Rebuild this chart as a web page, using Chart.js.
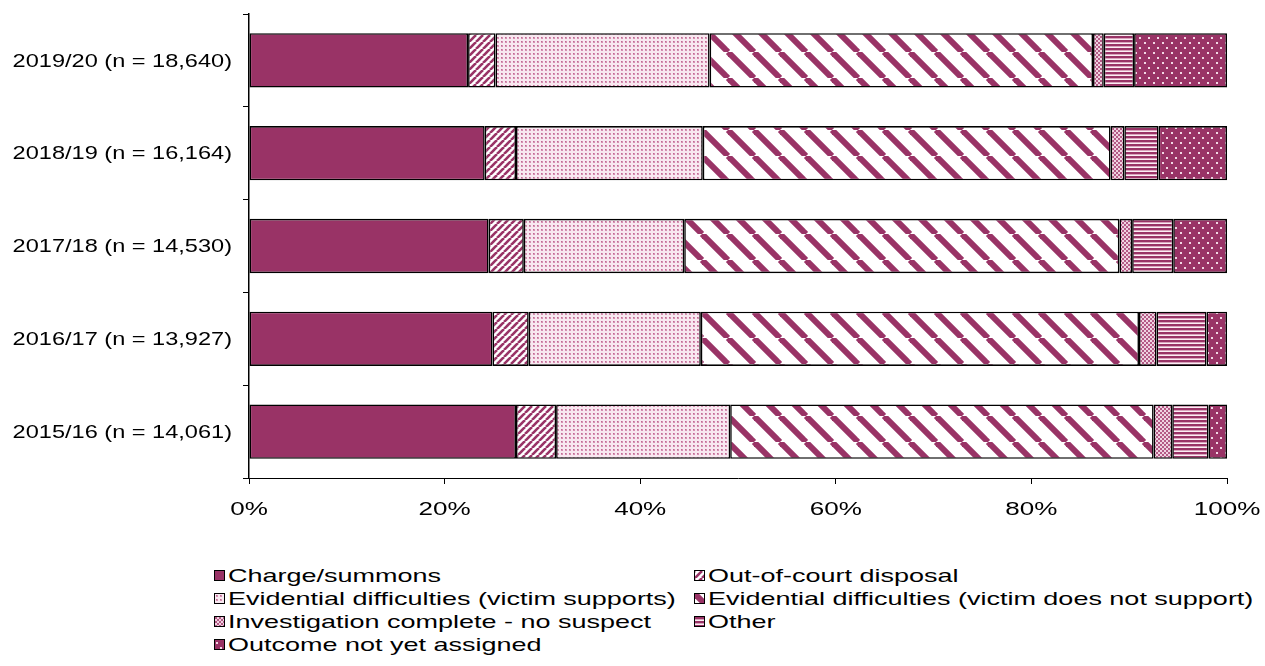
<!DOCTYPE html>
<html>
<head>
<meta charset="utf-8">
<script src="https://cdn.jsdelivr.net/npm/chart.js@4.4.1/dist/chart.umd.min.js"></script>
<style>
    body { margin: 0; background: #fff; font-family: "Liberation Sans", Arial, sans-serif; }
    #wrap { position: relative; width: 1265px; height: 666px; overflow: hidden; }
    #chart { position: absolute; left: 0; top: 0; }
    #legend { position: absolute; left: 214px; top: 564px; display: grid; grid-template-columns: 480px 570px; }
    .item { display: flex; align-items: center; height: 23px; font-size: 19px; color: #000; white-space: nowrap; }
    .item canvas { width: 11px; height: 11px; margin-right: 3px; box-sizing: border-box; border: 1px solid #000; }
    .item span { display: inline-block; transform: scaleX(1.42); transform-origin: left center; }
</style>
</head>
<body>
<div id="wrap">
    <canvas id="chart" width="1265" height="545"></canvas>
    <div id="legend"></div>
</div>
<script>
// data, in percent
const years = ["2019/20 (n = 18,640)", "2018/19 (n = 16,164)", "2017/18 (n = 14,530)", "2016/17 (n = 13,927)", "2015/16 (n = 14,061)"];
const seriesNames = [
    "Charge/summons",
    "Out-of-court disposal",
    "Evidential difficulties (victim supports)",
    "Evidential difficulties (victim does not support)",
    "Investigation complete - no suspect",
    "Other",
    "Outcome not yet assigned"
];
const chargeSummons = [22.4, 24.1, 24.5, 24.9, 27.3];
const outOfCourt = [2.8, 3.2, 3.6, 3.7, 4.1];
const evidSupports = [21.9, 19.1, 16.4, 17.6, 17.8];
const evidNotSupport = [39.2, 41.7, 44.5, 44.8, 43.3];
const noSuspect = [1.1, 1.4, 1.3, 1.8, 1.9];
const other = [3.1, 3.5, 4.2, 5.1, 3.7];
const notAssigned = [9.5, 7.0, 5.5, 2.1, 1.9];
const xTicks = [0, 20, 40, 60, 80, 100];

const PLUM = "#993366";
const AXIS_FONT = "19px 'Liberation Sans', Arial, sans-serif";
// the original's text is drawn wide
const Y_STRETCH = 1.24;
const X_STRETCH = 1.37;

/** make a repeating pattern from a small tile */
function makeTile(w, h, draw) {
    const c = document.createElement("canvas");
    c.width = w; c.height = h;
    const g = c.getContext("2d");
    draw(g, w, h);
    return c;
}

function diagonal(g, s, width, up) {
    g.fillStyle = "#fff"; g.fillRect(0, 0, s, s);
    g.strokeStyle = PLUM; g.lineWidth = width;
    for (let x = -s; x <= s; x += s) {
        g.beginPath();
        if (up) { g.moveTo(x, s); g.lineTo(x + s, 0); }
        else { g.moveTo(x, 0); g.lineTo(x + s, s); }
        g.stroke();
    }
}

const tiles = [
    makeTile(4, 4, (g, w, h) => { g.fillStyle = PLUM; g.fillRect(0, 0, w, h); }),
    // fine "/" stripes
    makeTile(7, 7, (g, s) => diagonal(g, s, 2.6, true)),
    // light dotted
    makeTile(4, 4, (g, w, h) => {
        g.fillStyle = "#f8e8f0"; g.fillRect(0, 0, w, h);
        g.fillStyle = "#d590b2"; g.fillRect(1, 1, 2, 2);
        g.fillStyle = "#bf6a93"; g.fillRect(1, 1, 1, 1);
    }),
    // wide "\" stripes
    makeTile(26, 26, (g, s) => diagonal(g, s, 6, false)),
    // small checks
    makeTile(4, 4, (g, w, h) => {
        g.fillStyle = "#efd3e1"; g.fillRect(0, 0, w, h);
        g.fillStyle = "#b45a86"; g.fillRect(0, 0, 2, 2); g.fillRect(2, 2, 2, 2);
    }),
    // horizontal stripes
    makeTile(4, 4, (g, w, h) => {
        g.fillStyle = "#fbeef4"; g.fillRect(0, 0, w, h);
        g.fillStyle = PLUM; g.fillRect(0, 0, w, 2);
        g.fillStyle = "#d9a3bd"; g.fillRect(0, 2, w, 1);
    }),
    // plum with light dots
    makeTile(9, 10, (g, w, h) => {
        g.fillStyle = PLUM; g.fillRect(0, 0, w, h);
        g.fillStyle = "#f2d8e5"; g.fillRect(1, 2, 2, 2); g.fillRect(5, 7, 2, 2);
    })
];

/** axis labels drawn wide, positioned by the chart's own scales */
const wideTicks = {
    id: "wideTicks",
    afterDraw(chart) {
        const { ctx, scales: { x, y } } = chart;
        ctx.save();
        ctx.fillStyle = "#000";
        ctx.font = AXIS_FONT;
        ctx.textBaseline = "middle";
        y.ticks.forEach((t, i) => {
            ctx.save();
            ctx.translate(y.right - 17, y.getPixelForTick(i) + 1);
            ctx.scale(Y_STRETCH, 1);
            ctx.textAlign = "right";
            ctx.fillText(y.getLabelForValue(t.value), 0, 0);
            ctx.restore();
        });
        x.ticks.forEach(t => {
            ctx.save();
            ctx.translate(x.getPixelForValue(t.value), x.top + 32);
            ctx.scale(X_STRETCH, 1);
            ctx.textAlign = "center";
            ctx.fillText(t.value + "%", 0, 0);
            ctx.restore();
        });
        ctx.restore();
    }
};

const ctx = document.getElementById("chart").getContext("2d");
const fills = tiles.map(t => ctx.createPattern(t, "repeat"));
const seriesData = [chargeSummons, outOfCourt, evidSupports, evidNotSupport, noSuspect, other, notAssigned];

new Chart(ctx, {
    type: "bar",
    data: {
        labels: years,
        datasets: seriesNames.map((name, i) => ({
            label: name,
            data: seriesData[i],
            backgroundColor: fills[i],
            borderColor: "#000",
            borderWidth: 1.6,
            borderSkipped: false,
            barPercentage: 0.585,
            categoryPercentage: 1
        }))
    },
    options: {
        indexAxis: "y",
        responsive: false,
        animation: false,
        layout: { padding: { top: 14, right: 38, left: 0, bottom: 0 } },
        plugins: { legend: { display: false }, tooltip: { enabled: false } },
        scales: {
            x: {
                stacked: true, min: 0, max: 100,
                afterBuildTicks: s => { s.ticks = xTicks.map(v => ({ value: v })); },
                afterFit: s => { s.height = 67; },
                ticks: { display: false },
                grid: { drawOnChartArea: false, drawTicks: true, tickLength: 6, color: "#000" },
                border: { color: "#000", width: 1 }
            },
            y: {
                stacked: true,
                afterFit: s => { s.width = 249; },
                ticks: { display: false },
                grid: { offset: true, drawOnChartArea: false, drawTicks: true, tickLength: 6, color: "#000" },
                border: { color: "#000", width: 1.5 }
            }
        }
    },
    plugins: [wideTicks]
});

// legend in two columns like the original
const legend = document.getElementById("legend");
seriesNames.forEach((name, i) => {
    const item = document.createElement("div");
    item.className = "item";
    const sw = document.createElement("canvas");
    sw.width = 9; sw.height = 9;
    const sg = sw.getContext("2d");
    sg.fillStyle = sg.createPattern(tiles[i], "repeat");
    sg.fillRect(0, 0, 9, 9);
    const label = document.createElement("span");
    label.textContent = name;
    item.appendChild(sw);
    item.appendChild(label);
    legend.appendChild(item);
});
</script>
</body>
</html>
